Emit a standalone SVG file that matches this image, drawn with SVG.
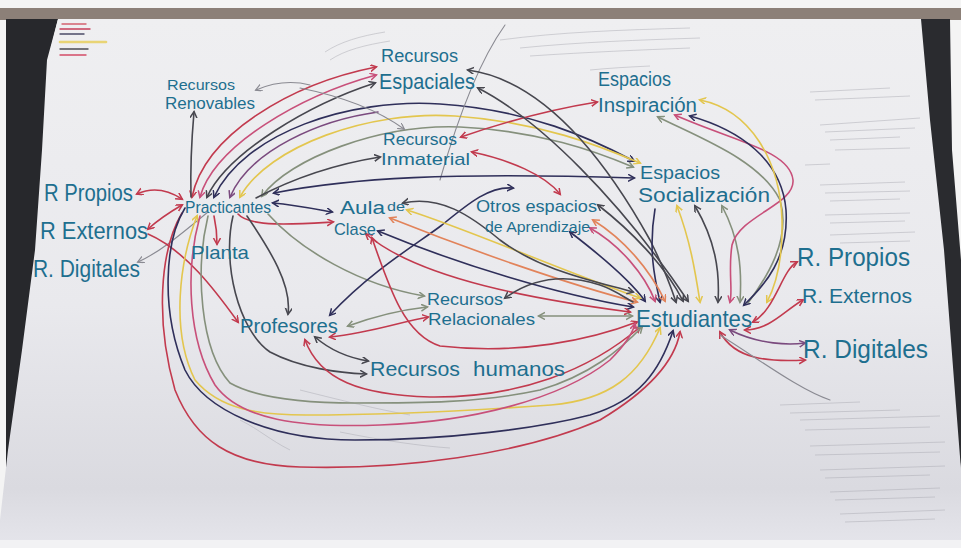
<svg xmlns="http://www.w3.org/2000/svg" width="961" height="548" viewBox="0 0 961 548">
<defs>
<linearGradient id="paper" x1="0" y1="0" x2="0" y2="1">
<stop offset="0" stop-color="#efeff1"/>
<stop offset="0.55" stop-color="#e9e9ed"/>
<stop offset="0.9" stop-color="#dadae0"/>
<stop offset="1" stop-color="#e4e4ea"/>
</linearGradient>
<marker id="aR" markerWidth="9" markerHeight="9" refX="6" refY="3.5" orient="auto-start-reverse" markerUnits="userSpaceOnUse"><path d="M0,0 L6.5,3.5 L0,7" fill="none" stroke="#c23a4e" stroke-width="1.5"/></marker>
<marker id="aP" markerWidth="9" markerHeight="9" refX="6" refY="3.5" orient="auto-start-reverse" markerUnits="userSpaceOnUse"><path d="M0,0 L6.5,3.5 L0,7" fill="none" stroke="#c8507a" stroke-width="1.5"/></marker>
<marker id="aN" markerWidth="9" markerHeight="9" refX="6" refY="3.5" orient="auto-start-reverse" markerUnits="userSpaceOnUse"><path d="M0,0 L6.5,3.5 L0,7" fill="none" stroke="#2f2f5a" stroke-width="1.5"/></marker>
<marker id="aG" markerWidth="9" markerHeight="9" refX="6" refY="3.5" orient="auto-start-reverse" markerUnits="userSpaceOnUse"><path d="M0,0 L6.5,3.5 L0,7" fill="none" stroke="#47474f" stroke-width="1.5"/></marker>
<marker id="aY" markerWidth="9" markerHeight="9" refX="6" refY="3.5" orient="auto-start-reverse" markerUnits="userSpaceOnUse"><path d="M0,0 L6.5,3.5 L0,7" fill="none" stroke="#e3c64e" stroke-width="1.5"/></marker>
<marker id="aO" markerWidth="9" markerHeight="9" refX="6" refY="3.5" orient="auto-start-reverse" markerUnits="userSpaceOnUse"><path d="M0,0 L6.5,3.5 L0,7" fill="none" stroke="#85907c" stroke-width="1.5"/></marker>
<marker id="aV" markerWidth="9" markerHeight="9" refX="6" refY="3.5" orient="auto-start-reverse" markerUnits="userSpaceOnUse"><path d="M0,0 L6.5,3.5 L0,7" fill="none" stroke="#7a4a7e" stroke-width="1.5"/></marker>
<marker id="aOr" markerWidth="9" markerHeight="9" refX="6" refY="3.5" orient="auto-start-reverse" markerUnits="userSpaceOnUse"><path d="M0,0 L6.5,3.5 L0,7" fill="none" stroke="#e2835a" stroke-width="1.5"/></marker>
<marker id="aL" markerWidth="9" markerHeight="9" refX="6" refY="3.5" orient="auto-start-reverse" markerUnits="userSpaceOnUse"><path d="M0,0 L6.5,3.5 L0,7" fill="none" stroke="#8a8a92" stroke-width="1.2"/></marker>
</defs>
<style>
text{font-family:"Liberation Sans","Arial",sans-serif;fill:#1e6f8f}
#connectors path{fill:none;stroke-width:1.6;stroke-linecap:round}
.R{stroke:#c23a4e}.P{stroke:#c8507a}.N{stroke:#2f2f5a}.G{stroke:#47474f}.Y{stroke:#e3c64e}.O{stroke:#85907c}.V{stroke:#7a4a7e}.Or{stroke:#e2835a}.L{stroke:#8a8a92;stroke-width:1.1!important}
.faint{fill:none;stroke:#a9a9b1;stroke-width:0.8;opacity:0.6}
</style>
<!-- photo background -->
<rect x="0" y="0" width="961" height="548" fill="#f4f4f4"/>
<rect x="0" y="8" width="961" height="12" fill="#8c8078"/>
<polygon points="6,19 58,19 48,60 42,200 30,340 16,450 6,540" fill="#27282c"/>
<polygon points="918,19 950,19 952,150 961,260 961,470 952,400 940,250" fill="#2a2b2f"/>
<path d="M58,19 L921,19 L930,120 L944,250 L954,380 L961,470 L961,540 L0,540 L0,520 L8,450 L22,350 L35,250 L42,150 L47,60 Z" fill="url(#paper)"/>
<rect x="0" y="540" width="961" height="8" fill="#f2f2f4"/>
<!-- legend marks -->
<g id="legend" stroke-linecap="round" opacity="0.85">
<line x1="62" y1="24" x2="86" y2="24" stroke="#d04a5a" stroke-width="1.4"/>
<line x1="60" y1="29" x2="90" y2="29" stroke="#c02040" stroke-width="1.4"/>
<line x1="60" y1="34" x2="84" y2="34" stroke="#303050" stroke-width="1.4"/>
<line x1="60" y1="42" x2="106" y2="42" stroke="#e8d060" stroke-width="2.6"/>
<line x1="60" y1="49" x2="88" y2="49" stroke="#303038" stroke-width="1.4"/>
<line x1="60" y1="55" x2="86" y2="55" stroke="#d03050" stroke-width="1.4"/>
</g>
<!-- faint pencil notes -->
<g id="notes" class="faint">
<path d="M325,52 C340,42 360,36 385,32 M330,60 C345,50 365,45 390,41"/>
<path d="M500,40 C560,32 620,30 690,28 M520,48 C580,42 640,40 700,38 M530,56 C590,52 640,50 690,48 M590,70 C610,68 630,67 650,66"/>
<path d="M810,92 L890,88 M815,100 L910,96 M820,125 L920,118 M825,132 L915,128 M830,140 L900,137 M835,150 L910,148 M805,165 L830,164 M820,185 L905,182 M825,193 L910,191 M830,201 L900,199 M825,215 L910,213 M830,223 L905,221 M830,235 L915,232 M840,243 L910,241"/>
<path d="M780,405 L860,402 M790,413 L900,410 M800,420 L940,416 M805,430 L930,427 M810,446 L945,442 M815,455 L940,452 M820,470 L945,466 M825,478 L930,475 M830,492 L940,488 M835,500 L935,497 M840,514 L945,510 M845,522 L935,519"/>
<path d="M300,390 C340,400 380,410 410,415 M340,432 C380,440 420,446 450,448 M240,420 C260,430 270,440 290,450"/>
</g>
<g id="connectors">
<!-- upper fan from Practicantes -->
<path class="R" d="M192,197 C205,135 290,84 376,67" marker-start="url(#aR)" marker-end="url(#aR)"/>
<path class="P" d="M200,197 C215,145 300,96 376,75" marker-start="url(#aP)" marker-end="url(#aP)"/>
<path class="G" d="M207,197 C228,152 310,104 375,83" marker-start="url(#aG)" marker-end="url(#aG)"/>
<path class="N" d="M214,197 C245,132 350,98 440,104 C530,110 590,138 634,161" marker-start="url(#aN)" marker-end="url(#aN)"/>
<path class="Y" d="M240,197 C268,146 370,110 455,116 C540,122 600,146 640,163" marker-start="url(#aY)" marker-end="url(#aY)"/>
<path class="O" d="M262,196 C290,158 380,124 460,127 C540,131 595,151 633,167" marker-start="url(#aO)" marker-end="url(#aO)"/>
<path class="V" d="M230,197 C250,150 320,120 378,112" marker-start="url(#aV)"/>
<path class="G" d="M256,198 C290,180 330,165 380,157" marker-end="url(#aG)"/>
<path class="G" d="M191,197 C190,160 192,135 194,112" marker-end="url(#aG)"/>
<path class="L" d="M310,85 C290,80 270,84 256,90" marker-end="url(#aL)"/>
<path class="L" d="M300,88 C340,96 375,108 404,129" marker-end="url(#aL)"/>
<path class="L" d="M440,180 C460,110 480,60 505,25"/>
<path class="N" d="M274,193 C350,178 450,172 634,178" marker-start="url(#aN)" marker-end="url(#aN)"/>
<!-- left R nodes -->
<path class="R" d="M182,199 C165,188 150,188 137,194" marker-start="url(#aR)" marker-end="url(#aR)"/>
<path class="R" d="M182,205 C170,212 158,220 148,229" marker-start="url(#aR)" marker-end="url(#aR)"/>
<path class="L" d="M208,212 C180,235 160,252 138,262" marker-end="url(#aL)"/>
<path class="R" d="M148,234 C185,250 215,290 238,322" marker-end="url(#aR)"/>
<path class="R" d="M214,216 C216,225 217,235 217,244" marker-end="url(#aR)"/>
<!-- Practicantes to Aula / Profesores / Relacionales -->
<path class="N" d="M273,203 C295,205 315,209 332,212" marker-start="url(#aN)" marker-end="url(#aN)"/>
<path class="R" d="M238,214 C250,228 300,224 333,222" marker-end="url(#aR)"/>
<path class="O" d="M268,214 C300,250 360,285 424,296" marker-end="url(#aO)"/>
<path class="G" d="M247,216 C270,250 292,285 288,314" marker-end="url(#aG)"/>
<path class="G" d="M233,216 C222,262 238,330 270,352 C300,368 340,373 366,374" marker-end="url(#aG)"/>
<!-- Profesores to Otros -->
<path class="N" d="M330,315 C372,270 420,242 442,225 C470,202 490,186 513,188" marker-start="url(#aN)" marker-end="url(#aN)"/>
<!-- Inmaterial / Inspiracion / Otros -->
<path class="R" d="M461,137 C510,120 560,108 597,102" marker-start="url(#aR)" marker-end="url(#aR)"/>
<path class="R" d="M472,152 C510,160 545,175 560,194" marker-start="url(#aR)" marker-end="url(#aR)"/>
<!-- Espaciales to Estudiantes -->
<path class="G" d="M478,88 C540,120 620,200 688,301" marker-start="url(#aG)" marker-end="url(#aG)"/>
<path class="G" d="M468,70 C540,80 600,150 650,240 C665,270 672,290 676,302" marker-start="url(#aG)" marker-end="url(#aG)"/>
<!-- Socializacion to Estudiantes -->
<path class="N" d="M655,209 C648,250 655,280 660,302" marker-end="url(#aN)"/>
<path class="Y" d="M677,206 C690,240 695,270 700,302" marker-start="url(#aY)" marker-end="url(#aY)"/>
<path class="G" d="M695,206 C715,240 720,270 718,302" marker-start="url(#aG)" marker-end="url(#aG)"/>
<path class="O" d="M722,206 C740,240 742,270 740,302" marker-start="url(#aO)" marker-end="url(#aO)"/>
<!-- Inspiracion to Estudiantes -->
<path class="O" d="M658,117 C700,138 760,160 780,200 C792,240 765,280 748,303" marker-start="url(#aO)"/>
<path class="P" d="M675,115 C730,140 790,150 793,180 C795,205 740,215 732,245 C728,270 733,290 730,302" marker-start="url(#aP)" marker-end="url(#aP)"/>
<path class="N" d="M690,116 C740,130 782,160 786,210 C789,258 765,285 744,305" marker-start="url(#aN)" marker-end="url(#aN)"/>
<path class="Y" d="M700,100 C750,110 780,160 782,220 C783,260 776,285 767,302" marker-start="url(#aY)" marker-end="url(#aY)"/>
<!-- Otros to Estudiantes -->
<path class="G" d="M598,205 C630,230 665,265 683,301" marker-start="url(#aG)" marker-end="url(#aG)"/>
<path class="Or" d="M593,220 C625,240 650,270 665,301" marker-start="url(#aOr)" marker-end="url(#aOr)"/>
<path class="P" d="M590,228 C620,245 645,275 655,301" marker-start="url(#aP)" marker-end="url(#aP)"/>
<path class="N" d="M570,232 C600,255 630,280 645,301" marker-start="url(#aN)" marker-end="url(#aN)"/>
<!-- Aula de Clase to Estudiantes -->
<path class="Y" d="M407,210 C470,230 560,270 640,298" marker-start="url(#aY)" marker-end="url(#aY)"/>
<path class="G" d="M403,203 C440,195 470,215 500,240 C540,270 590,280 633,292" marker-start="url(#aG)" marker-end="url(#aG)"/>
<path class="Or" d="M390,218 C470,250 570,285 637,302" marker-start="url(#aOr)" marker-end="url(#aOr)"/>
<path class="N" d="M378,231 C460,265 560,295 633,307" marker-start="url(#aN)" marker-end="url(#aN)"/>
<path class="R" d="M366,234 C420,280 540,300 630,312" marker-start="url(#aR)" marker-end="url(#aR)"/>
<path class="R" d="M372,238 C390,290 405,335 440,346 C520,355 590,340 637,322" marker-start="url(#aR)" marker-end="url(#aR)"/>
<!-- Relacionales -->
<path class="O" d="M539,316 L632,316" marker-start="url(#aO)" marker-end="url(#aO)"/>
<path class="G" d="M505,298 C530,280 560,272 600,285 C615,290 625,298 633,302" marker-start="url(#aG)"/>
<path class="O" d="M427,307 C400,310 370,318 348,326" marker-start="url(#aO)" marker-end="url(#aO)"/>
<path class="R" d="M428,317 C400,322 370,333 330,337" marker-start="url(#aR)" marker-end="url(#aR)"/>
<!-- Profesores to humanos -->
<path class="G" d="M315,337 C330,350 350,358 368,361" marker-start="url(#aG)" marker-end="url(#aG)"/>
<path class="R" d="M305,340 C320,380 360,395 430,397 C520,398 590,370 640,327" marker-start="url(#aR)" marker-end="url(#aR)"/>
<!-- big bottom loops -->
<path class="R" d="M182,213 C160,250 155,320 175,390 C195,440 230,465 300,467 C400,470 520,455 600,420 C650,390 675,360 680,332" marker-end="url(#aR)"/>
<path class="N" d="M185,208 C165,240 160,310 185,370 C205,410 270,440 355,440 C450,440 540,428 590,415 C640,400 660,370 673,331" marker-end="url(#aN)"/>
<path class="Y" d="M197,216 C180,260 170,330 195,380 C220,410 260,415 306,415 C400,415 480,410 551,405 C610,400 640,375 660,328" marker-start="url(#aY)" marker-end="url(#aY)"/>
<path class="O" d="M208,216 C195,270 200,350 230,383 C260,400 310,403 355,403 C420,403 480,403 540,390 C590,375 620,350 642,327" marker-end="url(#aO)"/>
<path class="P" d="M200,216 C185,270 188,340 215,385 C240,420 300,428 380,425 C470,422 560,400 610,360 C625,345 632,335 635,324" marker-end="url(#aP)"/>
<!-- right R nodes -->
<path class="R" d="M753,322 C775,310 782,270 797,262" marker-start="url(#aR)" marker-end="url(#aR)"/>
<path class="R" d="M745,330 C770,330 785,310 803,300" marker-start="url(#aR)" marker-end="url(#aR)"/>
<path class="V" d="M730,330 C760,345 790,345 805,343" marker-start="url(#aV)" marker-end="url(#aV)"/>
<path class="R" d="M720,332 C735,360 770,362 805,360" marker-start="url(#aR)" marker-end="url(#aR)"/>
<path class="L" d="M720,335 C760,360 800,390 830,400"/>
</g>
<!-- nodes -->
<g id="recursos-espaciales"><text x="381" y="62" font-size="18" textLength="77" lengthAdjust="spacingAndGlyphs">Recursos</text><text x="379" y="89" font-size="22" textLength="96" lengthAdjust="spacingAndGlyphs">Espaciales</text></g>
<g id="recursos-renovables"><text x="167" y="90" font-size="15" textLength="68" lengthAdjust="spacingAndGlyphs">Recursos</text><text x="165" y="109" font-size="16" textLength="90" lengthAdjust="spacingAndGlyphs">Renovables</text></g>
<g id="espacios-inspiracion"><text x="598" y="86" font-size="20" textLength="73" lengthAdjust="spacingAndGlyphs">Espacios</text><text x="598" y="112" font-size="20" textLength="99" lengthAdjust="spacingAndGlyphs">Inspiración</text></g>
<g id="recursos-inmaterial"><text x="383" y="145" font-size="17" textLength="74" lengthAdjust="spacingAndGlyphs">Recursos</text><text x="381" y="165" font-size="17" textLength="89" lengthAdjust="spacingAndGlyphs">Inmaterial</text></g>
<g id="espacios-socializacion"><text x="640" y="179" font-size="19" textLength="80" lengthAdjust="spacingAndGlyphs">Espacios</text><text x="638" y="202" font-size="20" textLength="132" lengthAdjust="spacingAndGlyphs">Socialización</text></g>
<g id="r-propios-l"><text x="44" y="201" font-size="23" textLength="89" lengthAdjust="spacingAndGlyphs">R Propios</text></g>
<g id="r-externos-l"><text x="40" y="239" font-size="23" textLength="108" lengthAdjust="spacingAndGlyphs">R Externos</text></g>
<g id="r-digitales-l"><text x="33" y="277" font-size="23" textLength="107" lengthAdjust="spacingAndGlyphs">R. Digitales</text></g>
<g id="practicantes"><text x="185" y="213" font-size="17" textLength="86" lengthAdjust="spacingAndGlyphs">Practicantes</text></g>
<g id="aula-clase"><text x="340" y="214" font-size="18" textLength="45" lengthAdjust="spacingAndGlyphs">Aula</text><text x="387" y="211" font-size="12" textLength="18" lengthAdjust="spacingAndGlyphs">de</text><text x="334" y="235" font-size="17" textLength="42" lengthAdjust="spacingAndGlyphs">Clase</text></g>
<g id="planta"><text x="191" y="259" font-size="19" textLength="58" lengthAdjust="spacingAndGlyphs">Planta</text></g>
<g id="otros-espacios"><text x="476" y="212" font-size="17" textLength="121" lengthAdjust="spacingAndGlyphs">Otros espacios</text><text x="485" y="232" font-size="15" textLength="105" lengthAdjust="spacingAndGlyphs">de Aprendizaje</text></g>
<g id="estudiantes"><text x="636" y="327" font-size="24" textLength="116" lengthAdjust="spacingAndGlyphs">Estudiantes</text></g>
<g id="r-propios-r"><text x="797" y="266" font-size="25" textLength="113" lengthAdjust="spacingAndGlyphs">R. Propios</text></g>
<g id="r-externos-r"><text x="802" y="303" font-size="21" textLength="110" lengthAdjust="spacingAndGlyphs">R. Externos</text></g>
<g id="r-digitales-r"><text x="803" y="358" font-size="25" textLength="125" lengthAdjust="spacingAndGlyphs">R. Digitales</text></g>
<g id="recursos-relacionales"><text x="427" y="305" font-size="17" textLength="76" lengthAdjust="spacingAndGlyphs">Recursos</text><text x="428" y="325" font-size="17" textLength="107" lengthAdjust="spacingAndGlyphs">Relacionales</text></g>
<g id="profesores"><text x="240" y="333" font-size="21" textLength="98" lengthAdjust="spacingAndGlyphs">Profesores</text></g>
<g id="recursos-humanos"><text x="370" y="376" font-size="21" textLength="90" lengthAdjust="spacingAndGlyphs">Recursos</text><text x="473" y="376" font-size="21" textLength="92" lengthAdjust="spacingAndGlyphs">humanos</text></g>
</svg>
